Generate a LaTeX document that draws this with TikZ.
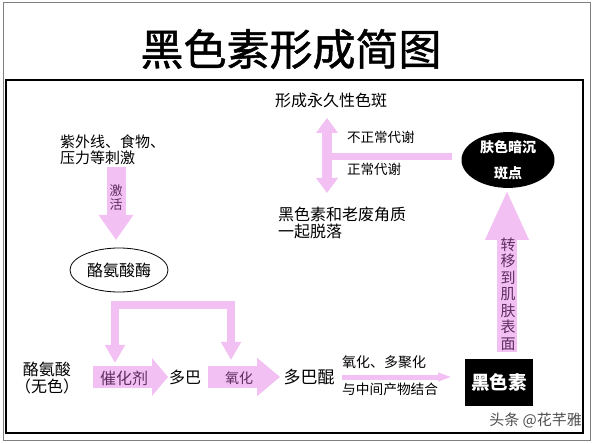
\documentclass[tikz,border=0pt]{standalone}
\usepackage{fontspec}
\setmainfont{Noto Sans CJK SC}
\newfontfamily\titlefont[FakeBold=1.2]{Noto Sans CJK SC}
\usetikzlibrary{arrows.meta,shapes.geometric}
\definecolor{pk}{RGB}{242,192,242}
\definecolor{pt}{RGB}{95,45,95}
\definecolor{wm}{RGB}{80,80,80}
\newcommand{\fsz}[2]{\fontsize{#1}{#2}\selectfont}
\begin{document}
\begin{tikzpicture}[x=1pt,y=-1pt,
  lbl/.style={inner sep=0pt, align=left, text=black},
  barrow/.style n args={3}{draw=pk, line width=#1, line join=miter, -{Triangle[width=#2,length=#3]}},
  dbarrow/.style n args={3}{draw=pk, line width=#1, line join=miter, {Triangle[width=#2,length=#3]}-{Triangle[width=#2,length=#3]}},
  intext/.style={inner sep=0pt, text=pt, align=center}
]
\useasboundingbox (0,0) rectangle (594,443);
\fill[white] (0,0) rectangle (594,443);
% frames
\draw[draw=gray, line width=1pt] (3,3) rectangle (590,440);
\draw[black, line width=1.2pt] (6,80) rectangle (583,433);

% title
\node[inner sep=0pt, font=\titlefont\fsz{43}{46}] (title) at (291,49) {黑色素形成简图};

% left column
\node[lbl, anchor=west, font=\fsz{15}{16.5}] (stim) at (60,150) {紫外线、食物、\\压力等刺激};
\node[ellipse, draw=black, line width=0.8pt, minimum width=98pt, minimum height=44pt, inner sep=0pt, font=\fsz{16}{18}] (enz) at (119,270) {酪氨酸酶};
\coordinate (actS) at (116,167);
\coordinate (actE) at (116,240);
\draw[barrow={19pt}{33pt}{25pt}] (actS) -- (actE);
\node[intext, font=\fsz{13}{14}] (act) at (116,198) {激\\活};

% bracket arrows
\coordinate (bL) at (115,363);
\coordinate (bR) at (231,360);
\draw[dbarrow={8pt}{19pt}{18pt}] (bL) -- (115,305) -- (231,305) -- (bR);

% bottom row
\node[lbl, align=center, font=\fsz{16}{17}] (tyr) at (47,378) {酪氨酸\\（无色）};
\coordinate (c1S) at (93,377);
\coordinate (c1E) at (168,377);
\draw[barrow={22pt}{37pt}{16pt}] (c1S) -- (c1E);
\node[intext, font=\fsz{16}{17}] (cat) at (124,378) {催化剂};
\node[lbl, font=\fsz{16}{17}] (dopa) at (185,377) {多巴};
\coordinate (c2S) at (208,377);
\coordinate (c2E) at (280,377);
\draw[barrow={22pt}{37pt}{23pt}] (c2S) -- (c2E);
\node[intext, font=\fsz{14}{15}] (oxi) at (239,378) {氧化};
\node[lbl, font=\fsz{17}{18}] (dq) at (309,377) {多巴醌};
\coordinate (tS) at (342,377);
\coordinate (tE) at (452,377);
\draw[barrow={5pt}{8pt}{14pt}] (tS) -- (tE);
\node[lbl, anchor=west, font=\fsz{14}{15}] (poly) at (342,362) {氧化、多聚化};
\node[lbl, anchor=west, font=\fsz{13.7}{15}] (comb) at (342,389) {与中间产物结合};
\node[fill=black, text=white, minimum width=68pt, minimum height=47pt, inner sep=0pt, font=\fsz{18.5}{20}\bfseries] (mel) at (499,382) {黑色素};

% up arrow
\coordinate (uS) at (507,352);
\coordinate (uE) at (507,190);
\draw[barrow={20pt}{40pt}{50pt}] (uS) -- (uE);
\node[intext, font=\fsz{15}{16.5}] (trans) at (508,294) {转\\移\\到\\肌\\肤\\表\\面};

% dark spot ellipse
\node[ellipse, fill=black, text=white, minimum width=93pt, minimum height=47pt, inner sep=0pt, align=center, font=\fsz{14}{26}\bfseries] (spot) at (508,160) {肤色暗沉\\斑点};

% metabolism split
\coordinate (hS) at (452,156.5);
\coordinate (hE) at (327,156.5);
\draw[pk, line width=7pt] (hS) -- (hE);
\coordinate (vT) at (327,118);
\coordinate (vB) at (327,193);
\draw[dbarrow={10pt}{21pt}{15pt}] (vT) -- (vB);
\node[lbl, anchor=west, font=\fsz{16}{17}] (perm) at (275,100) {形成永久性色斑};
\node[lbl, anchor=west, font=\fsz{13.5}{15}] (abn) at (347,137) {不正常代谢};
\node[lbl, anchor=west, font=\fsz{13.5}{15}] (norm) at (347,169) {正常代谢};
\node[lbl, anchor=west, font=\fsz{16}{17}] (shed) at (278,223) {黑色素和老废角质\\一起脱落};

% watermark
\node[inner sep=0pt, anchor=east, text=wm, font=\fsz{15}{16}] (wmk) at (582,420) {头条 @花芊雅};
\end{tikzpicture}
\end{document}
